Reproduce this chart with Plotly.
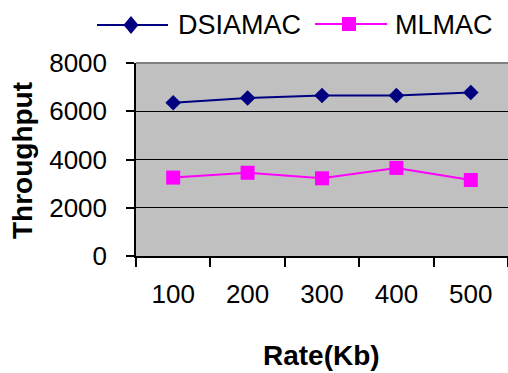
import plotly.graph_objects as go

rates = ["100", "200", "300", "400", "500"]
dsiamac = [6350, 6550, 6650, 6650, 6780]
mlmac = [3250, 3450, 3220, 3650, 3150]

series_names = ["DSIAMAC", "MLMAC"]
navy = "#000080"
magenta = "#FF00FF"

fig = go.Figure()
fig.add_trace(go.Scatter(
    x=rates, y=dsiamac, name=series_names[0], mode="lines+markers",
    line=dict(color=navy, width=2),
    marker=dict(symbol="diamond", size=12, color=navy),
))
fig.add_trace(go.Scatter(
    x=rates, y=mlmac, name=series_names[1], mode="lines+markers",
    line=dict(color=magenta, width=2),
    marker=dict(symbol="square", size=14, color=magenta),
))

# plot-area geometry (pixels) used to place the hand-built legend
L, T, W, H = 136, 63, 372, 193


def px(xp):
    return (xp - L) / W


def py(yp):
    return (T + H - yp) / H


shapes = []
annotations = []

# grey top border of the plot area
shapes.append(dict(type="line", xref="paper", yref="paper",
                   x0=0, x1=1, y0=1, y1=1, layer="above",
                   line=dict(color="#808080", width=2)))

leg_y = 25
# DSIAMAC key: line + diamond
shapes.append(dict(type="line", xref="paper", yref="paper",
                   x0=px(97), x1=px(168), y0=py(leg_y), y1=py(leg_y),
                   line=dict(color=navy, width=2)))
cx, cy = 131, leg_y
shapes.append(dict(type="path", xref="paper", yref="paper",
                   path=f"M {px(cx-7.5)},{py(cy)} L {px(cx)},{py(cy-9)} "
                        f"L {px(cx+7.5)},{py(cy)} L {px(cx)},{py(cy+9)} Z",
                   fillcolor=navy, line=dict(color=navy, width=0)))
# MLMAC key: line + square
shapes.append(dict(type="line", xref="paper", yref="paper",
                   x0=px(315), x1=px(387), y0=py(leg_y - 1), y1=py(leg_y - 1),
                   line=dict(color=magenta, width=2)))
sx, sy = 349, leg_y - 1
shapes.append(dict(type="rect", xref="paper", yref="paper",
                   x0=px(sx - 7), x1=px(sx + 7), y0=py(sy + 7), y1=py(sy - 7),
                   fillcolor=magenta, line=dict(color=magenta, width=0)))

annotations.append(dict(text=series_names[0], xref="paper", yref="paper",
                        x=px(176), y=py(leg_y), xanchor="left", yanchor="middle",
                        showarrow=False, font=dict(size=27)))
annotations.append(dict(text=series_names[1], xref="paper", yref="paper",
                        x=px(393), y=py(leg_y), xanchor="left", yanchor="middle",
                        showarrow=False, font=dict(size=27)))

# axis titles
annotations.append(dict(text="<b>Rate(Kb)</b>", xref="paper", yref="paper",
                        x=px(321), y=py(355), xanchor="center", yanchor="middle",
                        showarrow=False, font=dict(size=28)))
annotations.append(dict(text="<b>Throughput</b>", xref="paper", yref="paper",
                        x=px(22), y=py(161), xanchor="center", yanchor="middle",
                        textangle=-90, showarrow=False, font=dict(size=28)))

font = "Liberation Sans, Arial, sans-serif"
fig.update_layout(
    width=508, height=373,
    margin=dict(l=L, r=508 - L - W, t=T, b=373 - T - H, autoexpand=False),
    paper_bgcolor="white", plot_bgcolor="#C0C0C0",
    font=dict(family=font, color="black"),
    showlegend=False,
    shapes=shapes,
    annotations=annotations,
    xaxis=dict(
        type="category", range=[-0.5, 4.5], tickson="boundaries",
        showline=True, linecolor="black", linewidth=1.5,
        ticks="outside", ticklen=9, tickcolor="black", tickwidth=1.5,
        tickfont=dict(size=26), ticklabelstandoff=14,
        showgrid=False,
    ),
    yaxis=dict(
        range=[0, 8000], dtick=2000,
        showline=True, linecolor="black", linewidth=1.5,
        ticks="outside", ticklen=8, tickcolor="black", tickwidth=1.5,
        tickfont=dict(size=26), ticklabelstandoff=14,
        showgrid=True, gridcolor="black", gridwidth=1,
        zeroline=False,
    ),
)

fig.write_html("out.html")
